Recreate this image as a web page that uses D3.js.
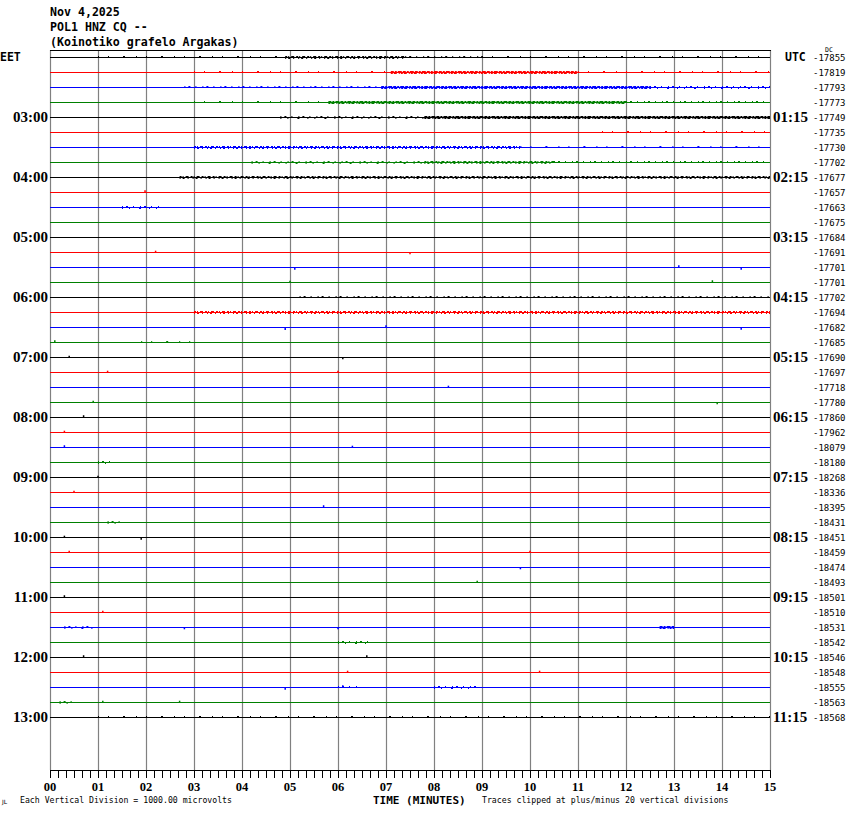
<!DOCTYPE html>
<html><head><meta charset="utf-8">
<script src="https://cdn.jsdelivr.net/npm/d3@7/dist/d3.min.js"></script>
<style>body{margin:0;background:#fff}svg{display:block}</style>
</head><body><svg id="c" width="850" height="814"></svg>
<script>
// ---------- data ----------
const titleLines = ["Nov 4,2025", "POL1 HNZ CQ --", "(Koinotiko grafelo Argakas)"];
const minuteTicks = ["00","01","02","03","04","05","06","07","08","09","10","11","12","13","14","15"];
const leftHourLabels = ["03:00","04:00","05:00","06:00","07:00","08:00","09:00","10:00","11:00","12:00","13:00"];
const rightHourLabels = ["01:15","02:15","03:15","04:15","05:15","06:15","07:15","08:15","09:15","10:15","11:15"];
const traceOffsets = [-17855,-17819,-17793,-17773,-17749,-17735,-17730,-17702,-17677,-17657,-17663,-17675,
  -17684,-17691,-17701,-17701,-17702,-17694,-17682,-17685,-17690,-17697,-17718,-17780,-17860,-17962,-18079,
  -18180,-18268,-18336,-18395,-18431,-18451,-18459,-18474,-18493,-18501,-18510,-18531,-18542,-18546,-18548,
  -18555,-18563,-18568];
// noisy stretches: [trace, startMinute, endMinute, density 0..1]
const noiseSpans = [
  [0,1.0,4.9,0.15],[0,4.9,7.4,0.8],[0,7.4,9.0,0.35],[0,9.0,15,0.1],
  [1,3.0,7.1,0.3],[1,7.1,11.0,0.9],[1,11.0,15,0.25],
  [2,2.8,6.9,0.35],[2,6.9,12.5,0.9],[2,12.5,15,0.6],
  [3,3.0,5.8,0.3],[3,5.8,12.0,0.9],[3,12.0,15,0.4],
  [4,4.8,7.8,0.45],[4,7.8,15,0.9],
  [5,11.5,15,0.2],
  [6,3.0,9.8,0.75],[6,9.8,15,0.05],
  [7,4.2,7.8,0.45],[7,7.8,10.5,0.8],[7,10.5,15,0.4],
  [8,2.7,15,0.7],
  [10,1.5,2.3,0.6],
  [16,5.2,15,0.4],
  [17,3.0,15,0.8],
  [19,1.9,3.1,0.3],
  [38,0.3,0.9,0.6],[38,12.7,13.0,0.95],
  [39,6.0,6.7,0.6],
  [42,6.0,6.4,0.4],[42,8.0,8.9,0.5],
  [44,1.0,15,0.25],
  [31,1.2,1.5,0.6],[27,1.0,1.3,0.5],[43,0.2,0.5,0.5]
];
// isolated spikes: [trace, minute, amplitude in microvolts]
const spikes = [
  [9,1.98,150],[13,2.2,120],[13,7.5,-120],[14,5.1,-150],[14,13.1,150],[14,14.4,-150],
  [15,5.0,120],[15,13.8,150],[18,4.9,-160],[18,7.0,150],[18,14.4,-150],[19,0.1,150],
  [20,0.4,120],[20,6.1,-120],[21,1.2,120],[21,6.0,120],[22,8.3,120],[23,0.9,120],[23,13.9,-120],
  [24,0.7,150],[25,0.3,120],[26,0.3,150],[26,6.3,120],[28,1.0,120],[29,0.5,120],[30,5.7,150],
  [32,0.3,120],[32,1.9,-150],[33,0.4,120],[33,10.0,120],[34,9.8,-120],[35,8.9,120],[36,0.3,150],
  [37,1.1,120],[38,2.8,-120],[38,6.0,-120],[40,0.7,150],[40,6.6,150],[41,10.2,120],[41,6.2,120],
  [42,4.9,-150],[42,6.1,150],[43,1.1,120],[43,2.7,120]
];
const traceColors = ["#000000","#ff0000","#0000ff","#008000"];

(function(){
// ---------- layout ----------
const svg = d3.select("#c");
const L = 50, R = 770, T = 50, axisY = 770;
const x = d3.scaleLinear().domain([0,15]).range([L,R]);
const traceY = d3.scaleLinear().domain([0,traceOffsets.length-1]).range([57,717]);
const ampPx = d3.scaleLinear().domain([0,1000]).range([0,15]);

// vertical minute grid
svg.append("g").selectAll("line").data(d3.range(0,16)).join("line")
  .attr("x1",d=>x(d)+0.5).attr("x2",d=>x(d)+0.5)
  .attr("y1",T).attr("y2",axisY)
  .attr("stroke","#808080").attr("stroke-width",1.2);
// top border
svg.append("line").attr("x1",L).attr("x2",R+1).attr("y1",T+0.5).attr("y2",T+0.5)
  .attr("stroke","#000").attr("stroke-width",1.2);

// traces
const tg = svg.append("g");
traceOffsets.forEach((v,i)=>{
  tg.append("line").attr("x1",L).attr("x2",R).attr("y1",traceY(i)+0.5).attr("y2",traceY(i)+0.5)
    .attr("stroke",traceColors[i%4]).attr("stroke-width",1.2);
});
// noise spans
noiseSpans.forEach(([t,s,e,d])=>{
  const y = traceY(t)+0.5;
  const c = traceColors[t%4];
  const dash = d>0.85 ? "3 1 2 1 4 1" : d>0.6 ? "2 1 1 2 3 2" : d>0.3 ? "1 3 2 5 1 6" : "1 9 1 14 2 11";
  tg.append("line").attr("x1",x(s)).attr("x2",x(e)).attr("y1",y-1).attr("y2",y-1)
    .attr("stroke",c).attr("stroke-width",1).attr("stroke-dasharray",dash);
  if (d>0.4) tg.append("line").attr("x1",x(s)).attr("x2",x(e)).attr("y1",y+1).attr("y2",y+1)
    .attr("stroke",c).attr("stroke-width",1)
    .attr("stroke-dasharray", d>0.85 ? "2 1 3 2 1 1" : d>0.6 ? "1 2 2 3 1 4" : "1 6 1 9 2 8");
});
// spikes
tg.selectAll("line.sp").data(spikes).join("line").attr("class","sp")
  .attr("x1",d=>x(d[1])).attr("x2",d=>x(d[1]))
  .attr("y1",d=>traceY(d[0])+0.5).attr("y2",d=>traceY(d[0])+0.5-ampPx(d[2]))
  .attr("stroke",d=>traceColors[d[0]%4]).attr("stroke-width",1.5);

// x axis
svg.append("line").attr("x1",L).attr("x2",R+1).attr("y1",axisY+0.5).attr("y2",axisY+0.5)
  .attr("stroke","#000").attr("stroke-width",1.2);
svg.append("g").selectAll("line").data(d3.range(0,15*6+1)).join("line")
  .attr("x1",d=>x(d/6)+0.5).attr("x2",d=>x(d/6)+0.5)
  .attr("y1",axisY).attr("y2",axisY+8).attr("stroke","#000").attr("stroke-width",1);
svg.append("g").selectAll("text").data(minuteTicks).join("text")
  .attr("x",(d,i)=>x(i)).attr("y",790.5).attr("text-anchor","middle")
  .attr("font-family","Liberation Serif").attr("font-weight","bold").attr("font-size",12.5)
  .text(d=>d);

// titles
svg.append("g").selectAll("text").data(titleLines).join("text")
  .attr("x",50).attr("y",(d,i)=>16+i*15)
  .attr("font-family","DejaVu Sans Mono").attr("font-weight","bold").attr("font-size",11.6)
  .text(d=>d);
const bold = s=>s.attr("font-family","DejaVu Sans Mono").attr("font-weight","bold").attr("font-size",11.5);
bold(svg.append("text").attr("x",0).attr("y",61)).text("EET");
bold(svg.append("text").attr("x",785).attr("y",61)).text("UTC");
svg.append("text").attr("x",825).attr("y",52).attr("font-family","DejaVu Sans Mono")
  .attr("font-size",6.5).text("DC");

// hour labels
svg.append("g").selectAll("text").data(leftHourLabels).join("text")
  .attr("x",48).attr("y",(d,i)=>traceY(4+4*i)+5).attr("text-anchor","end")
  .attr("font-family","Liberation Serif").attr("font-weight","bold").attr("font-size",15).text(d=>d);
svg.append("g").selectAll("text").data(rightHourLabels).join("text")
  .attr("x",773).attr("y",(d,i)=>traceY(4+4*i)+5)
  .attr("font-family","Liberation Serif").attr("font-weight","bold").attr("font-size",15).text(d=>d);
// offsets
svg.append("g").selectAll("text").data(traceOffsets).join("text")
  .attr("x",813).attr("y",(d,i)=>traceY(i)+3.5)
  .attr("font-family","DejaVu Sans Mono").attr("font-size",9).text(d=>"-"+Math.abs(d));

// footer
svg.append("text").attr("x",373).attr("y",803.5).attr("font-family","DejaVu Sans Mono")
  .attr("font-weight","bold").attr("font-size",11).text("TIME (MINUTES)");
svg.append("text").attr("x",20).attr("y",803).attr("font-family","DejaVu Sans Mono").attr("font-size",8.2)
  .text("Each Vertical Division = 1000.00 microvolts");
svg.append("text").attr("x",482).attr("y",803).attr("font-family","DejaVu Sans Mono").attr("font-size",8.2)
  .text("Traces clipped at plus/minus 20 vertical divisions");
svg.append("text").attr("x",2).attr("y",804).attr("font-family","DejaVu Sans").attr("font-size",6).text("JL");
})();
</script></body></html>
